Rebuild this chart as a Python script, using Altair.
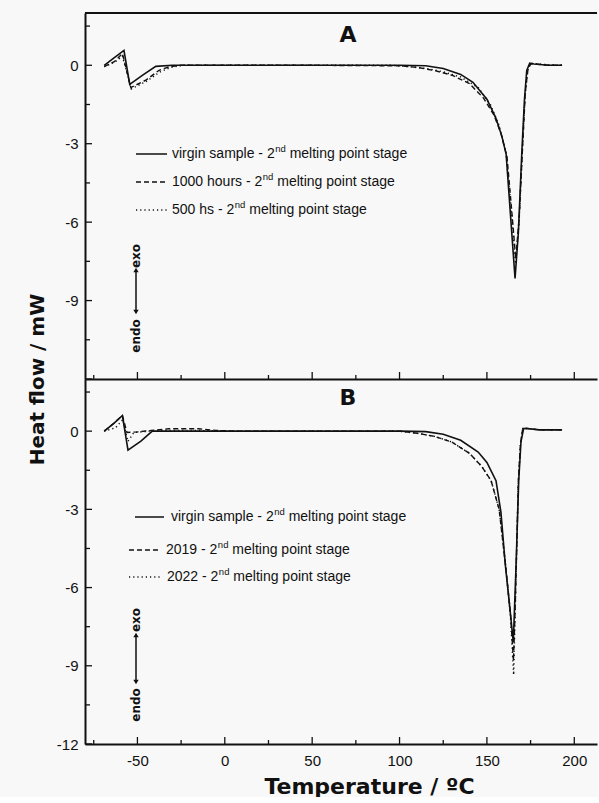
import altair as alt
import pandas as pd

# ---------------- data ----------------
# Panel A
A_VIRGIN_T = [-69, -63, -57.7, -54.4, -47, -39.5, -30, 0, 50, 100, 115, 125, 135, 142, 150, 155, 158.5, 161, 164, 166.1, 168, 170, 171.5, 172.8, 174.5, 177, 185, 193]
A_VIRGIN_Q = [0.0, 0.3, 0.57, -0.73, -0.38, -0.04, 0.0, 0.0, 0.0, 0.0, -0.02, -0.12, -0.35, -0.65, -1.3, -2.0, -2.7, -3.4, -6.2, -8.15, -6.4, -3.3, -1.3, -0.2, 0.08, 0.05, 0.0, 0.0]

A_1000H_T = [-69, -63, -58.6, -53.8, -45.2, -37.6, -31.9, -25, 0, 50, 100, 110, 120, 130, 140, 148, 154, 158, 161.5, 164.5, 166.5, 168.5, 170.5, 172, 173.5, 175, 178, 185, 193]
A_1000H_Q = [-0.05, 0.15, 0.45, -0.85, -0.57, -0.19, -0.06, 0.0, 0.0, 0.0, -0.02, -0.08, -0.2, -0.38, -0.7, -1.25, -1.9, -2.6, -3.5, -5.8, -7.4, -5.8, -3.0, -1.0, -0.15, 0.05, 0.05, 0.0, 0.0]

A_500H_T = [-69, -63, -58.6, -53.5, -45, -37, -31, -24, 0, 50, 95, 105, 115, 125, 135, 145, 152, 157, 161, 164.3, 166.4, 168.4, 170.3, 171.8, 173.3, 175, 178, 185, 193]
A_500H_Q = [-0.05, 0.12, 0.35, -0.9, -0.62, -0.25, -0.08, 0.0, 0.0, 0.0, 0.0, -0.05, -0.12, -0.25, -0.45, -0.85, -1.5, -2.3, -3.4, -5.8, -7.6, -6.0, -3.2, -1.2, -0.2, 0.08, 0.05, 0.02, 0.0]

# Panel B
B_VIRGIN_T = [-69, -63.5, -58.6, -55.4, -48, -41.5, -30, 0, 50, 100, 115, 125, 135, 145, 150, 155.2, 158, 160.5, 163, 165.1, 166.7, 168.2, 169.5, 171, 173, 180, 193]
B_VIRGIN_Q = [0.0, 0.3, 0.6, -0.73, -0.38, 0.0, 0.0, 0.0, 0.0, 0.0, -0.02, -0.12, -0.35, -0.8, -1.2, -1.9, -3.1, -5.1, -6.7, -8.1, -5.1, -1.9, -0.4, 0.1, 0.1, 0.05, 0.05]

B_2019_T = [-69, -63.5, -58.6, -56, -50, -42, -32, -15, -5, 5, 50, 100, 110, 120, 130, 140, 147, 152.4, 157, 160.6, 163.5, 165.2, 166.3, 167.3, 168, 169.2, 170.5, 173, 180, 193]
B_2019_Q = [0.0, 0.3, 0.6, -0.05, -0.03, 0.03, 0.09, 0.09, 0.03, 0.0, 0.0, 0.0, -0.08, -0.2, -0.42, -0.85, -1.35, -1.9, -3.0, -5.1, -7.0, -8.8, -6.5, -3.8, -1.9, -0.5, 0.1, 0.1, 0.05, 0.05]

B_2022_T = [-69, -62.5, -58.3, -55.5, -52, -40, -20, 0, 50, 100, 110, 120, 130, 140, 147, 152.4, 157, 160.6, 163.5, 165.3, 166.3, 167.3, 168, 169.2, 170.5, 173, 180, 193]
B_2022_Q = [0.0, 0.13, 0.45, -0.4, -0.05, 0.02, 0.03, 0.0, 0.0, 0.0, -0.08, -0.2, -0.42, -0.85, -1.35, -1.9, -3.0, -5.1, -7.1, -9.35, -6.5, -3.8, -1.9, -0.5, 0.1, 0.1, 0.05, 0.05]

# axis ticks / labels
X_MAJOR = [-50, 0, 50, 100, 150, 200]
X_MINOR = [-75, -25, 25, 75, 125, 175]
Y_MAJOR = [0, -3, -6, -9, -12]
Y_MINOR = [1.5, -1.5, -4.5, -7.5, -10.5]
A_Y_LABELS = [0, -3, -6, -9]
B_Y_LABELS = [0, -3, -6, -9, -12]

A_LEGEND = ["virgin sample - 2", "1000 hours - 2", "500 hs - 2"]
B_LEGEND = ["virgin sample - 2", "2019 - 2", "2022 - 2"]
LEGEND_SUFFIX = "melting point stage"

# ---------------- styling ----------------
XDOM = [-80, 213]
YDOM = [-12, 2]
W = 512
HA = 366
HB = 365
FONT = "Liberation Sans"
BOLD = "DejaVu Sans"
INK = "#111111"
BG = "#f8f8f8"

xs = alt.Scale(domain=XDOM, nice=False, zero=False)
ys = alt.Scale(domain=YDOM, nice=False, zero=False)

SOLID = None
DASH = [5, 3]
DOT = [1.2, 3]

# Arial / Liberation Sans advance widths (per 1000 em)
AW = {" ": 278, "-": 333, "a": 556, "b": 556, "c": 500, "d": 556, "e": 556, "f": 278,
      "g": 556, "h": 556, "i": 222, "j": 222, "k": 500, "l": 222, "m": 833, "n": 556,
      "o": 556, "p": 556, "q": 556, "r": 333, "s": 500, "t": 278, "u": 556, "v": 500,
      "w": 722, "x": 500, "y": 500, "z": 500}


def tw(s, size):
    return sum(AW.get(c, 556) for c in s) / 1000.0 * size


def one():
    return pd.DataFrame({"k": [1]})


def line_layer(T, Q, dash, width, xaxis, yaxis):
    df = pd.DataFrame({"T": T, "Q": Q})
    kw = dict(color=INK, strokeWidth=width, clip=True)
    if dash is not None:
        kw["strokeDash"] = dash
    return alt.Chart(df).mark_line(**kw).encode(
        x=alt.X("T:Q", scale=xs, axis=xaxis),
        y=alt.Y("Q:Q", scale=ys, axis=yaxis),
    )


def tick_layers(H, xaxis, yaxis):
    out = []
    for vals, ln in ((X_MAJOR, 7), (X_MINOR, 4)):
        out.append(alt.Chart(pd.DataFrame({"T": vals})).mark_rule(color=INK, strokeWidth=1.3).encode(
            x=alt.X("T:Q", scale=xs, axis=xaxis), y=alt.value(H), y2=alt.value(H - ln)))
    for vals, ln in ((Y_MAJOR, 7), (Y_MINOR, 5)):
        out.append(alt.Chart(pd.DataFrame({"Q": vals})).mark_rule(color=INK, strokeWidth=1.3).encode(
            y=alt.Y("Q:Q", scale=ys, axis=yaxis), x=alt.value(0), x2=alt.value(ln)))
    return out


def legend_layers(labels, rows):
    out = []
    fs = 14
    sup = 9.5
    for label, (dash, x1, x2, y, tx) in zip(labels, rows):
        kw = dict(color=INK, strokeWidth=1.5)
        if dash is not None:
            kw["strokeDash"] = dash
        out.append(alt.Chart(one()).mark_rule(**kw).encode(
            x=alt.value(x1), x2=alt.value(x2), y=alt.value(y)))
        out.append(alt.Chart(one()).mark_text(text=label, align="left", baseline="middle",
                                              font=FONT, fontSize=fs, color=INK).encode(
            x=alt.value(tx), y=alt.value(y)))
        sx = tx + tw(label, fs) + 0.5
        out.append(alt.Chart(one()).mark_text(text="nd", align="left", baseline="middle",
                                              font=FONT, fontSize=sup, color=INK).encode(
            x=alt.value(sx), y=alt.value(y - 5)))
        out.append(alt.Chart(one()).mark_text(text=LEGEND_SUFFIX, align="left", baseline="middle",
                                              font=FONT, fontSize=fs, color=INK).encode(
            x=alt.value(sx + tw("nd", sup) + tw(" ", fs)), y=alt.value(y)))
    return out


def arrow_layers(x, y_exo, y1, y2, y_endo):
    out = []
    out.append(alt.Chart(one()).mark_text(text="exo", angle=270, align="center", baseline="middle",
                                          font=BOLD, fontWeight="bold", fontSize=12, color=INK).encode(
        x=alt.value(x), y=alt.value(y_exo)))
    out.append(alt.Chart(one()).mark_text(text="endo", angle=270, align="center", baseline="middle",
                                          font=BOLD, fontWeight="bold", fontSize=12, color=INK).encode(
        x=alt.value(x), y=alt.value(y_endo)))
    out.append(alt.Chart(one()).mark_rule(color=INK, strokeWidth=1.5).encode(
        x=alt.value(x), y=alt.value(y1 + 2), y2=alt.value(y2 - 2)))
    out.append(alt.Chart(one()).mark_point(shape="triangle-up", filled=True, size=28, color=INK, opacity=1).encode(
        x=alt.value(x), y=alt.value(y1 + 2)))
    out.append(alt.Chart(one()).mark_point(shape="triangle-down", filled=True, size=28, color=INK, opacity=1).encode(
        x=alt.value(x), y=alt.value(y2 - 2)))
    return out


def letter_layer(letter, x, y):
    return alt.Chart(one()).mark_text(text=letter, align="center", baseline="middle",
                                      font=BOLD, fontWeight="bold", fontSize=22, color=INK).encode(
        x=alt.value(x), y=alt.value(y))


common_axis = dict(grid=False, ticks=False, tickSize=0, domain=True, domainColor=INK, domainWidth=2,
                   labelFont=FONT, labelFontSize=15, labelColor=INK,
                   labelExpr="toString(datum.value)")

# ---------------- panel A ----------------
ax_A_x = alt.Axis(values=X_MAJOR, labels=False, title=None, **common_axis)
ax_A_y = alt.Axis(values=A_Y_LABELS, labelPadding=7, title=None, **common_axis)

layers_A = [
    line_layer(A_VIRGIN_T, A_VIRGIN_Q, SOLID, 1.6, ax_A_x, ax_A_y),
    line_layer(A_1000H_T, A_1000H_Q, DASH, 1.4, ax_A_x, ax_A_y),
    line_layer(A_500H_T, A_500H_Q, DOT, 1.5, ax_A_x, ax_A_y),
    alt.Chart(one()).mark_rule(color=INK, strokeWidth=2).encode(
        x=alt.value(0), x2=alt.value(W), y=alt.value(0)),
]
layers_A += tick_layers(HA, ax_A_x, ax_A_y)
layers_A += legend_layers(A_LEGEND, [
    (SOLID, 51, 82, 141, 87),
    (DASH, 51, 82, 169, 87),
    (DOT, 51, 82, 197, 87),
])
layers_A += arrow_layers(51, 243, 255, 301, 323)
layers_A.append(letter_layer("A", 263, 22))

panel_A = alt.layer(*layers_A).properties(width=W, height=HA)

# ---------------- panel B ----------------
ax_B_x = alt.Axis(values=X_MAJOR, labels=True, labelPadding=9, title="Temperature / ºC",
                  titleFont=BOLD, titleFontWeight="bold", titleFontSize=22, titleColor=INK,
                  titleX=284, titleY=49, titleAlign="center", titleBaseline="alphabetic", **common_axis)
ax_B_y = alt.Axis(values=B_Y_LABELS, labelPadding=7, title="Heat flow / mW",
                  titleFont=BOLD, titleFontWeight="bold", titleFontSize=20, titleColor=INK,
                  titleAngle=270, titleX=-48, titleY=0, titleAlign="center", titleBaseline="middle",
                  **common_axis)

layers_B = [
    line_layer(B_VIRGIN_T, B_VIRGIN_Q, SOLID, 1.6, ax_B_x, ax_B_y),
    line_layer(B_2019_T, B_2019_Q, DASH, 1.4, ax_B_x, ax_B_y),
    line_layer(B_2022_T, B_2022_Q, DOT, 1.5, ax_B_x, ax_B_y),
]
layers_B += tick_layers(HB, ax_B_x, ax_B_y)
layers_B += legend_layers(B_LEGEND, [
    (SOLID, 50, 79, 138, 86),
    (DASH, 44, 74, 171, 81),
    (DOT, 44, 77, 198, 82),
])
layers_B += arrow_layers(51, 241, 254, 305, 326)
layers_B.append(letter_layer("B", 263, 19))

panel_B = alt.layer(*layers_B).properties(width=W, height=HB)

chart = alt.vconcat(panel_A, panel_B, spacing=0, bounds="flush").properties(
    padding={"left": 26, "top": 12, "right": 0, "bottom": 0},
    background=BG,
).configure_view(stroke=None)

chart.save("out.html", embed_options={"renderer": "svg", "actions": False})
